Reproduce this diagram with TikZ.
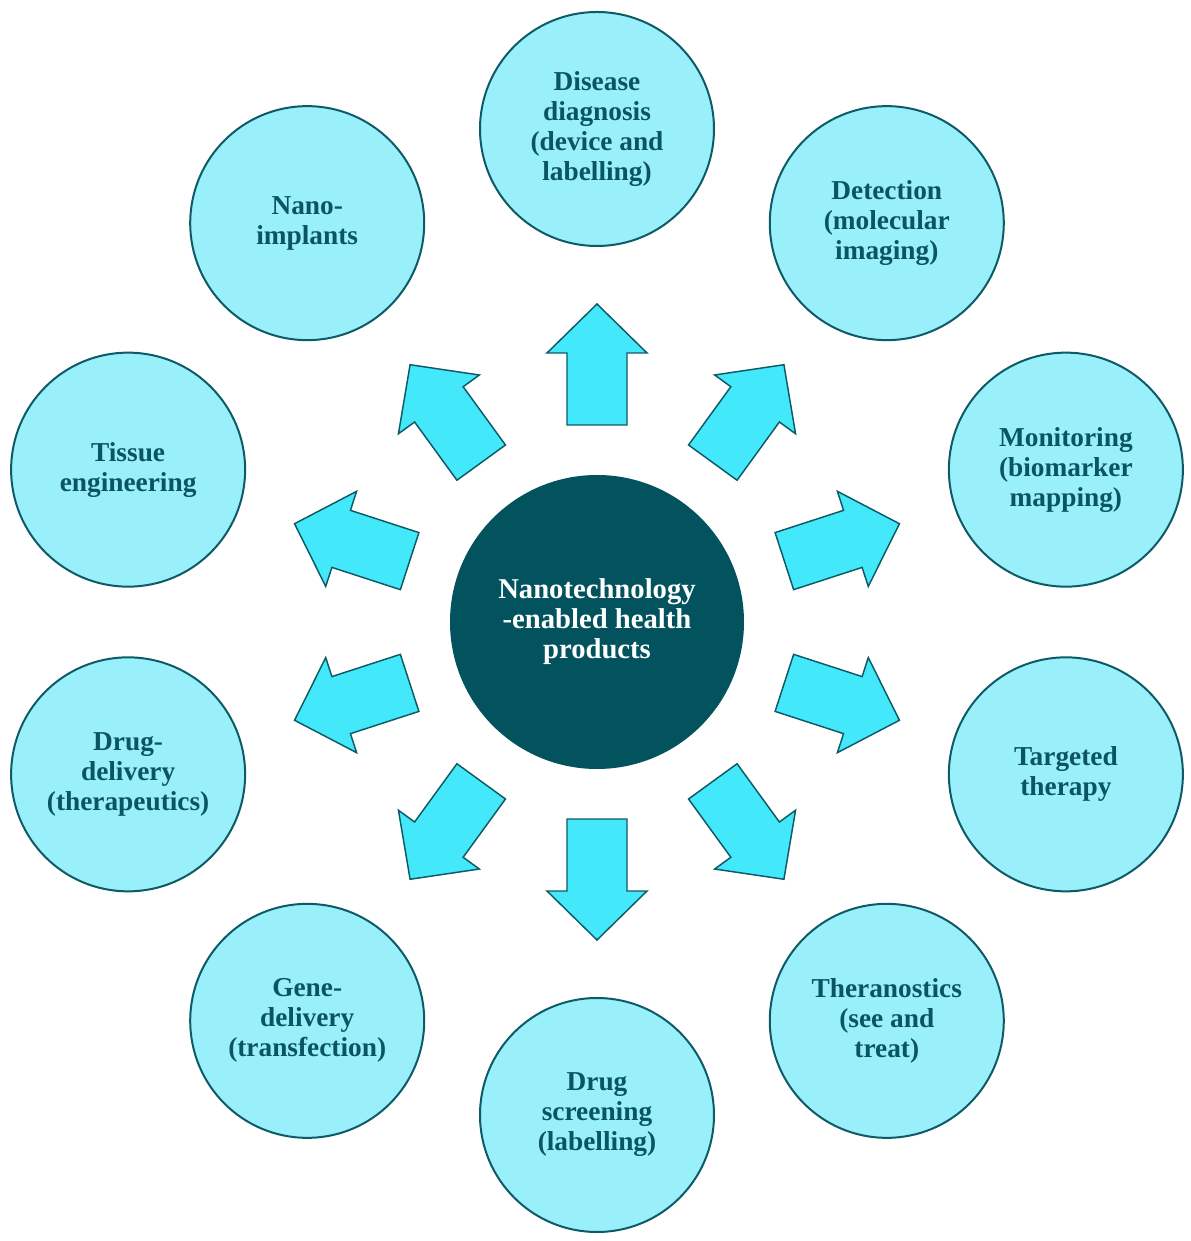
\documentclass[tikz,border=0pt]{standalone}
\usepackage{fontspec}
\setmainfont{Liberation Serif}
\definecolor{circfill}{HTML}{99F0FA}
\definecolor{arrfill}{HTML}{44E8FB}
\definecolor{darkline}{HTML}{0E5A66}
\definecolor{txtcol}{HTML}{0B5560}
\definecolor{hubfill}{HTML}{03535F}
\begin{document}
\begin{tikzpicture}[x=0.75pt,y=0.75pt,
  outer/.style={circle, draw=darkline, line width=1.5pt, fill=circfill,
    minimum size=175.5pt, inner sep=0pt, align=center, text=txtcol,
    font=\fontsize{20.5}{22.5}\selectfont\bfseries},
  hub/.style={circle, fill=hubfill, minimum size=220.5pt, inner sep=0pt,
    align=center, text=white, font=\fontsize{21.5}{22.5}\selectfont\bfseries},
  blockarrow/.style={draw=darkline, line width=1.1pt, fill=arrfill, line join=miter}]
\useasboundingbox (-597,-619) rectangle (594,622);
\node[hub] (hub) at (0,0) {Nanotechnology\\-enabled health\\products};
\node[outer] (c1) at (90:493) {Disease\\diagnosis\\(device and\\labelling)};
\node[outer] (c2) at (54:493) {Detection\\(molecular\\imaging)};
\node[outer] (c3) at (18:493) {Monitoring\\(biomarker\\mapping)};
\node[outer] (c4) at (-18:493) {Targeted\\therapy};
\node[outer] (c5) at (-54:493) {Theranostics\\(see and\\treat)};
\node[outer] (c6) at (-90:493) {Drug\\screening\\(labelling)};
\node[outer] (c7) at (-126:493) {Gene-\\delivery\\(transfection)};
\node[outer] (c8) at (-162:493) {Drug-\\delivery\\(therapeutics)};
\node[outer] (c9) at (162:493) {Tissue\\engineering};
\node[outer] (c10) at (126:493) {Nano-\\implants};
\foreach \a in {90,54,18,-18,-54,-90,-126,-162,162,126}{
  \draw[blockarrow, rotate=\a] (197,-30) -- (269,-30) -- (269,-50) -- (318,0)
    -- (269,50) -- (269,30) -- (197,30) -- cycle;
}
\end{tikzpicture}
\end{document}
